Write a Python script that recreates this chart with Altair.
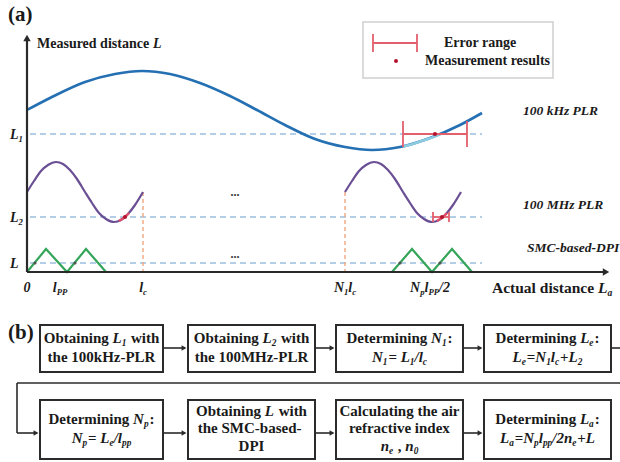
import altair as alt
import pandas as pd

W, H = 620, 462
FONT = "Liberation Serif"
INK = "#1a1a1a"

# ---------------- panel (a) data (pixel-space diagram coordinates) ----------------
ORIGIN_X, ORIGIN_Y = 27, 272
Y_AXIS_TOP = 34
X_AXIS_END = 610

BLUE_X = [27, 50, 85, 115, 142, 170, 200, 230, 257, 285, 315, 345, 372, 400, 430, 460, 482]
BLUE_Y = [110, 98, 82, 74, 71, 74, 83, 96, 110, 125, 139, 147, 150, 147, 138, 125, 113]
BLUE_HI_X = [403, 412, 421, 430, 440]
BLUE_HI_Y = [146.5, 144.3, 141.3, 138.3, 134.1]

PURPLE_X_LEFT = [27, 34, 41, 48, 56, 63, 70, 77, 85, 92, 99, 106, 114, 121, 128, 135, 143]
PURPLE_X_RIGHT = [345, 352, 359, 366, 374, 381, 388, 395, 403, 410, 417, 424, 432, 439, 446, 453, 461]
PURPLE_Y = [192, 181, 171, 165, 162, 164, 170, 179, 192, 203, 213, 219, 222, 220, 214, 205, 192]
RED_SEG_X_LEFT = [119, 122, 125, 129]
RED_SEG_X_RIGHT = [437, 440, 443, 447]
RED_SEG_Y = [221, 219, 217, 213]

GREEN_X_LEFT = [27, 46, 67, 86, 106]
GREEN_X_RIGHT = [392, 412, 432, 452, 472]
GREEN_Y = [272, 249, 272, 249, 272]

LEVEL_Y = [134, 217, 263]
LEVEL_X1, LEVEL_X2 = 30, 482
VLINE_X = [143, 345]
VLINE_Y1, VLINE_Y2 = 192, 271

ERR_X1 = [403, 433, 373]
ERR_X2 = [467, 449, 417]
ERR_Y = [134, 217, 43]
ERR_CAP = [13, 5, 9]

DOT_X = [435, 442, 396, 125]
DOT_Y = [134, 217, 61, 217]
CROSS_X = [35, 75, 400, 440]
CROSS_Y = [263, 263, 263, 263]

LEGEND_BOX = [363, 22, 553, 78]
ELLIPSIS_X = [235, 235]
ELLIPSIS_Y = [196, 258]

# ---------------- panel (b) data ----------------
BOX_X1 = [40, 188, 336, 484]
BOX_X2 = [163, 315, 463, 611]
ROW_Y1 = [325, 400]
ROW_Y2 = [372, 459]
ROW_ARROW_Y = [348, 433]
FEEDBACK_Y = 383
FEEDBACK_LEFT_X = 17

# text: (segments, x, y, size, anchor); kinds: r roman, i italic, s italic subscript
LABELS_A = [
    ([("(a)", "r")], 8, 21, 21, "left"),
    ([("Measured distance ", "r"), ("L", "i")], 37, 48, 14, "left"),
    ([("Error range", "r")], 444, 47, 14, "left"),
    ([("Measurement results", "r")], 425, 65, 14, "left"),
    ([("100 kHz PLR", "i")], 523, 115, 13.5, "left"),
    ([("100 MHz PLR", "i")], 523, 209, 13.5, "left"),
    ([("SMC-based-DPI", "i")], 527, 252, 13.5, "left"),
    ([("L", "i"), ("1", "s")], 10, 139, 14, "left"),
    ([("L", "i"), ("2", "s")], 10, 222, 14, "left"),
    ([("L", "i")], 10, 268, 14, "left"),
    ([("0", "i")], 27, 292, 14, "center"),
    ([("l", "i"), ("PP", "s")], 60, 292, 14, "center"),
    ([("l", "i"), ("c", "s")], 143, 292, 14, "center"),
    ([("N", "i"), ("1", "s"), ("l", "i"), ("c", "s")], 345, 292, 14, "center"),
    ([("N", "i"), ("p", "s"), ("l", "i"), ("PP", "s"), ("/2", "i")], 430, 292, 14, "center"),
    ([("Actual distance ", "r"), ("L", "i"), ("a", "s")], 492, 293, 15.5, "left"),
    ([("(b)", "r")], 8, 339, 21, "left"),
]

BOX_TEXT = [
    # row 1
    [[("Obtaining ", "r"), ("L", "i"), ("1", "s"), (" with", "r")], [("the 100kHz-PLR", "r")]],
    [[("Obtaining ", "r"), ("L", "i"), ("2", "s"), (" with", "r")], [("the 100MHz-PLR", "r")]],
    [[("Determining ", "r"), ("N", "i"), ("1", "s"), (":", "r")],
     [("N", "i"), ("1", "s"), ("= ", "r"), ("L", "i"), ("1", "s"), ("/", "i"), ("l", "i"), ("c", "s")]],
    [[("Determining ", "r"), ("L", "i"), ("e", "s"), (":", "r")],
     [("L", "i"), ("e", "s"), ("=", "r"), ("N", "i"), ("1", "s"), ("l", "i"), ("c", "s"), ("+", "r"), ("L", "i"), ("2", "s")]],
    # row 2
    [[("Determining ", "r"), ("N", "i"), ("p", "s"), (":", "r")],
     [("N", "i"), ("p", "s"), ("= ", "r"), ("L", "i"), ("e", "s"), ("/", "i"), ("l", "i"), ("pp", "s")]],
    [[("Obtaining ", "r"), ("L", "i"), (" with", "r")], [("the  SMC-based-", "r")], [("DPI", "r")]],
    [[("Calculating the air", "r")], [("refractive index", "r")],
     [("n", "i"), ("e", "s"), (" , ", "r"), ("n", "i"), ("0", "s")]],
    [[("Determining ", "r"), ("L", "i"), ("a", "s"), (":", "r")],
     [("L", "i"), ("a", "s"), ("=", "r"), ("N", "i"), ("p", "s"), ("l", "i"), ("pp", "s"), ("/2", "i"),
      ("n", "i"), ("e", "s"), ("+", "r"), ("L", "i")]],
]
BOX_FONT = 15
TWO_LINE_BASE = [[343, 362], [424, 443]]
THREE_LINE_BASE = [416, 433, 451]

# ---------------- text metrics (Times bold / bold italic, per 1000 em) ----------------
ROMAN = dict(zip(" ()+,-./:=0123456789", [250, 333, 333, 570, 250, 333, 250, 278, 333, 570] + [500] * 10))
ROMAN.update(dict(zip("ABCDEFGHIJKLMNOPQRSTUVWXYZ",
                      [722, 667, 722, 722, 667, 611, 778, 778, 389, 500, 778, 667, 944, 722, 778, 611, 778, 722, 556, 667, 722, 722, 1000, 722, 722, 667])))
ROMAN.update(dict(zip("abcdefghijklmnopqrstuvwxyz",
                      [500, 556, 444, 556, 444, 333, 500, 556, 278, 333, 556, 278, 833, 556, 500, 556, 556, 444, 389, 333, 556, 500, 722, 500, 500, 444])))
ITAL = dict(zip(" ()+,-./:=0123456789", [250, 333, 333, 570, 250, 333, 250, 278, 333, 570] + [500] * 10))
ITAL.update(dict(zip("ABCDEFGHIJKLMNOPQRSTUVWXYZ",
                     [667, 667, 667, 722, 667, 667, 722, 778, 389, 500, 667, 611, 889, 722, 722, 611, 722, 667, 556, 611, 722, 667, 889, 667, 611, 611])))
ITAL.update(dict(zip("abcdefghijklmnopqrstuvwxyz",
                     [500, 500, 444, 500, 444, 333, 500, 556, 278, 278, 500, 278, 778, 556, 500, 500, 500, 389, 389, 278, 556, 444, 667, 500, 444, 389])))


def text_width(s, italic, size):
    tbl = ITAL if italic else ROMAN
    return sum(tbl.get(ch, 500) for ch in s) / 1000.0 * size


TEXT_ROWS = []


def rich(segs, x, y, size, anchor="left"):
    pieces = []
    total = 0.0
    prev_italic = False
    for t, k in segs:
        italic = k in ("i", "s")
        sub = k == "s"
        fs = size * 0.62 if sub else size
        if prev_italic and not italic:
            total += 0.06 * size  # italic correction before upright glyphs
        lead = len(t) - len(t.lstrip(" "))
        lead_w = text_width(" " * lead, italic, fs)
        pieces.append((t.strip(" "), italic, fs, total + lead_w, y + (size * 0.22 if sub else 0)))
        total += text_width(t, italic, fs)
        prev_italic = italic
    x0 = x - total / 2 if anchor == "center" else x
    for t, italic, fs, off, yy in pieces:
        if t:
            TEXT_ROWS.append(dict(x=x0 + off, y=yy, t=t, fs=fs,
                                  style="italic" if italic else "normal"))


for segs, x, y, size, anchor in LABELS_A:
    rich(segs, x, y, size, anchor)

for bi, lines in enumerate(BOX_TEXT):
    row = 0 if bi < 4 else 1
    cx = (BOX_X1[bi % 4] + BOX_X2[bi % 4]) / 2
    bases = TWO_LINE_BASE[row] if len(lines) == 2 else THREE_LINE_BASE
    for segs, by in zip(lines, bases):
        rich(segs, cx, by, BOX_FONT, "center")

# ---------------- encodings ----------------
XS = alt.Scale(domain=[0, W])
YS = alt.Scale(domain=[0, H], reverse=True)
X = alt.X("x:Q", scale=XS, axis=None)
Y = alt.Y("y:Q", scale=YS, axis=None)
X2 = alt.X2("x2:Q")
Y2 = alt.Y2("y2:Q")


def rules(rows, color, width=1.5, dash=None):
    kw = dict(color=color, strokeWidth=width)
    if dash:
        kw["strokeDash"] = dash
    return alt.Chart(pd.DataFrame(rows, columns=["x", "y", "x2", "y2"])).mark_rule(**kw).encode(
        x=X, y=Y, x2=X2, y2=Y2)


def lines(series, color, width=2, interp="monotone"):
    rows = []
    for si, (xs, ys) in enumerate(series):
        for i, (a, b) in enumerate(zip(xs, ys)):
            rows.append(dict(s=si, i=i, x=a, y=b))
    kw = dict(color=color, strokeWidth=width)
    if interp:
        kw["interpolate"] = interp
    return alt.Chart(pd.DataFrame(rows)).mark_line(**kw).encode(
        x=X, y=Y, detail="s:N", order="i:Q")


def points(xs, ys, color, size, shape="circle"):
    return alt.Chart(pd.DataFrame(dict(x=xs, y=ys))).mark_point(
        filled=True, color=color, size=size, shape=shape, opacity=1, strokeWidth=0).encode(x=X, y=Y)


def rects(rows, fill, stroke, width):
    return alt.Chart(pd.DataFrame(rows, columns=["x", "y", "x2", "y2"])).mark_rect(
        fill=fill, stroke=stroke, strokeWidth=width).encode(x=X, y=Y, x2=X2, y2=Y2)


layers = []

# legend box
lx1, ly1, lx2, ly2 = LEGEND_BOX
layers.append(rects([(lx1, ly1, lx2, ly2)], "white", "#cfcfcf", 1.5))

# dashed levels and vertical markers
layers.append(rules([(LEVEL_X1, y, LEVEL_X2, y) for y in LEVEL_Y], "#9dbfe0", 1.6, [6, 4]))
layers.append(rules([(x, VLINE_Y1, x, VLINE_Y2) for x in VLINE_X], "#f2a67e", 1.4, [4, 3]))

# curves
layers.append(lines([(BLUE_X, BLUE_Y)], "#2470b3", 2.6))
layers.append(lines([(BLUE_HI_X, BLUE_HI_Y)], "#8ccbe0", 2.6))
layers.append(lines([(PURPLE_X_LEFT, PURPLE_Y), (PURPLE_X_RIGHT, PURPLE_Y)], "#6a4f94", 2.2))
layers.append(lines([(RED_SEG_X_LEFT, RED_SEG_Y), (RED_SEG_X_RIGHT, RED_SEG_Y)], "#e0506a", 2.4))
layers.append(lines([(GREEN_X_LEFT, GREEN_Y), (GREEN_X_RIGHT, GREEN_Y)], "#35a55a", 2.2, None))

# error bars
err_rows = []
for x1, x2, y, c in zip(ERR_X1, ERR_X2, ERR_Y, ERR_CAP):
    err_rows += [(x1, y, x2, y), (x1, y - c, x1, y + c), (x2, y - c, x2, y + c)]
layers.append(rules(err_rows, "#e35f6c", 1.8))
layers.append(points(DOT_X, DOT_Y, "#b3122c", 16))
layers.append(points(CROSS_X, CROSS_Y, "#555555", 10))

# axes with arrowheads
layers.append(rules([(ORIGIN_X, ORIGIN_Y, ORIGIN_X, Y_AXIS_TOP + 4),
                     (ORIGIN_X, ORIGIN_Y, X_AXIS_END - 4, ORIGIN_Y)], "#2a2a2a", 2.2))
layers.append(points([ORIGIN_X], [Y_AXIS_TOP + 4], "#2a2a2a", 55, "triangle-up"))
layers.append(points([X_AXIS_END - 4], [ORIGIN_Y], "#2a2a2a", 55, "triangle-right"))

# ellipses
layers.append(alt.Chart(pd.DataFrame(dict(x=ELLIPSIS_X, y=ELLIPSIS_Y, t=["...", "..."]))).mark_text(
    font=FONT, fontWeight="bold", fontSize=12, color="#333333", baseline="alphabetic").encode(
    x=X, y=Y, text="t:N"))

# panel (b) boxes
box_rows = []
for r in range(2):
    for x1, x2 in zip(BOX_X1, BOX_X2):
        box_rows.append((x1, ROW_Y1[r], x2, ROW_Y2[r]))
layers.append(rects(box_rows, "white", "#2b2b2b", 2))

# connectors
conn = []
heads_x, heads_y = [], []
for r in range(2):
    ay = ROW_ARROW_Y[r]
    for k in range(3):
        conn.append((BOX_X2[k], ay, BOX_X1[k + 1] - 3, ay))
        heads_x.append(BOX_X1[k + 1] - 4)
        heads_y.append(ay)
conn.append((BOX_X2[3], ROW_ARROW_Y[0], W, ROW_ARROW_Y[0]))
conn.append((FEEDBACK_LEFT_X, FEEDBACK_Y, W, FEEDBACK_Y))
conn.append((FEEDBACK_LEFT_X, FEEDBACK_Y, FEEDBACK_LEFT_X, ROW_ARROW_Y[1]))
conn.append((FEEDBACK_LEFT_X, ROW_ARROW_Y[1], BOX_X1[0] - 3, ROW_ARROW_Y[1]))
heads_x.append(BOX_X1[0] - 4)
heads_y.append(ROW_ARROW_Y[1])
layers.append(rules(conn, "#2b2b2b", 1.6))
layers.append(points(heads_x, heads_y, "#2b2b2b", 32, "triangle-right"))

# text layers
txt = pd.DataFrame(TEXT_ROWS)
for style in ["normal", "italic"]:
    d = txt[txt["style"] == style]
    layers.append(alt.Chart(d).mark_text(
        font=FONT, fontWeight="bold", fontStyle=style, align="left", baseline="alphabetic", color=INK
    ).encode(x=X, y=Y, text="t:N", size=alt.Size("fs:Q", scale=None)))

chart = alt.layer(*layers).properties(
    width=W, height=H, padding=0, background="white",
    autosize=alt.AutoSizeParams(type="none")
).configure_view(stroke=None)

chart.save("out.html", embed_options={"renderer": "svg", "actions": False})
